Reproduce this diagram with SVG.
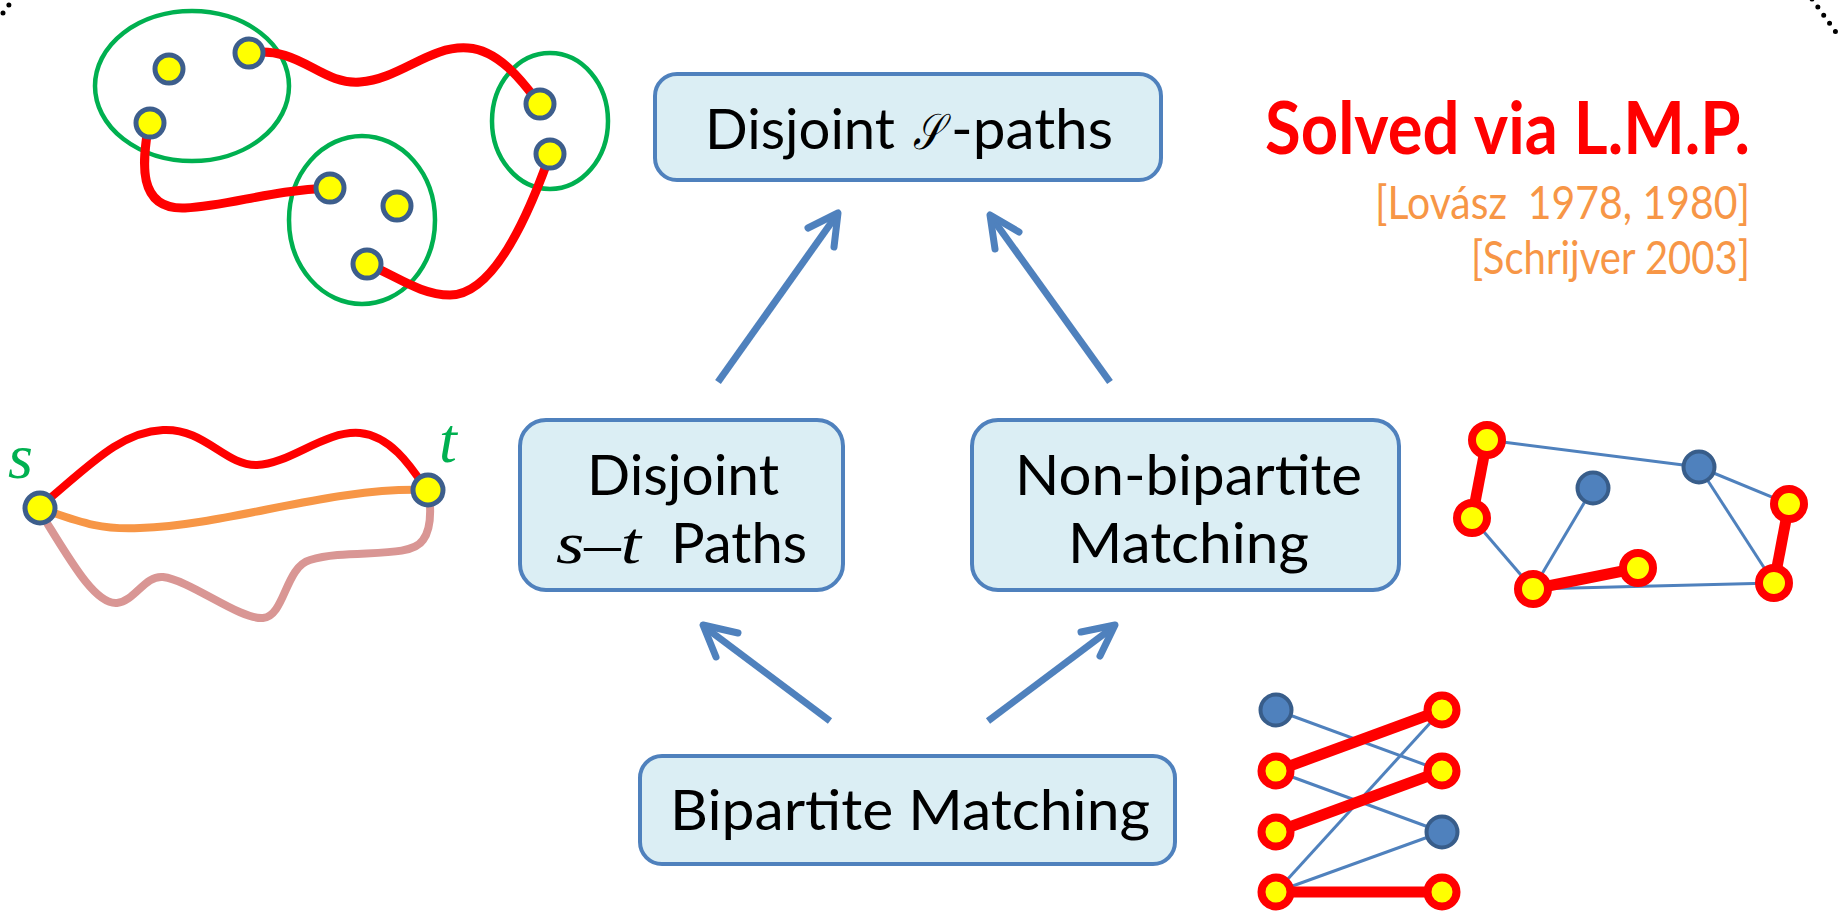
<svg xmlns="http://www.w3.org/2000/svg" width="1845" height="923" viewBox="0 0 1845 923">
  <style>
    .box { fill: #DBEEF4; stroke: #4F81BD; stroke-width: 4; }
    .lbl { font-family: Lato, "Open Sans", "Liberation Sans", sans-serif; fill: #000; }
    .math { font-family: "Liberation Serif", "DejaVu Serif", serif; font-style: italic; }
    .arrow { fill: none; stroke: #4F81BD; stroke-width: 7; stroke-linejoin: round; }
    .head { fill: none; stroke: #4F81BD; stroke-width: 7; stroke-linecap: round; stroke-linejoin: round; }
    .grp { fill: none; stroke: #00B050; stroke-width: 4.5; }
    .vtx { fill: #FFFF00; stroke: #3D5E8C; stroke-width: 5; }
    .mv { fill: #FFFF00; stroke: #FF0000; stroke-width: 8; }
    .bv { fill: #4F81BD; stroke: #385D8A; stroke-width: 4; }
    .thin { stroke: #4F81BD; stroke-width: 3; fill: none; }
    .thick { stroke: #FF0000; stroke-width: 11; fill: none; }
    .red { stroke: #FF0000; stroke-width: 9; fill: none; stroke-linecap: round; }
    .ref { font-family: Lato, "Open Sans", "Liberation Sans", sans-serif; fill: #F79646; }
    .dots { fill: none; stroke: #000; stroke-width: 5; stroke-dasharray: 0 10; stroke-linecap: round; }
  </style>

  <!-- frame corner dots -->
  <path class="dots" d="M3,13 L11,2"/>
  <path class="dots" d="M1812,-1 L1838,35"/>

  <!-- connectors -->
  <g id="connectors">
    <g id="e-st-to-S">
      <line class="arrow" x1="718" y1="382" x2="836" y2="216"/>
      <polyline class="head" points="808,228 838,213 834,247"/>
    </g>
    <g id="e-nb-to-S">
      <line class="arrow" x1="1110" y1="382" x2="992" y2="218"/>
      <polyline class="head" points="1019,232 990,215 995,249"/>
    </g>
    <g id="e-bm-to-st">
      <line class="arrow" x1="830" y1="721" x2="706" y2="628"/>
      <polyline class="head" points="738,633 703,625 716,657"/>
    </g>
    <g id="e-bm-to-nb">
      <line class="arrow" x1="988" y1="721" x2="1112" y2="628"/>
      <polyline class="head" points="1081,632 1115,625 1100,656"/>
    </g>
  </g>

  <!-- boxes -->
  <g id="node-s-paths">
    <rect class="box" x="655" y="74" width="506" height="106" rx="22"/>
    <text class="lbl" x="705" y="149" font-size="56" textLength="190" lengthAdjust="spacingAndGlyphs">Disjoint</text>
    <text x="913" y="149" font-size="50" font-family="'DejaVu Serif', 'DejaVu Sans', serif" font-style="italic" textLength="29" lengthAdjust="spacingAndGlyphs">𝒮</text>
    <text class="lbl" x="951" y="149" font-size="56" textLength="162" lengthAdjust="spacingAndGlyphs">-paths</text>
  </g>

  <g id="node-st-paths">
    <rect class="box" x="520" y="420" width="323" height="170" rx="26"/>
    <text class="lbl" x="587" y="495" font-size="56" textLength="192" lengthAdjust="spacingAndGlyphs">Disjoint</text>
    <text x="556" y="563" font-size="60" textLength="85" lengthAdjust="spacingAndGlyphs"><tspan class="math">s</tspan><tspan font-family="'Liberation Serif', serif">–</tspan><tspan class="math">t</tspan></text>
    <text class="lbl" x="671" y="563" font-size="56" textLength="136" lengthAdjust="spacingAndGlyphs">Paths</text>
  </g>

  <g id="node-nonbip">
    <rect class="box" x="972" y="420" width="427" height="170" rx="26"/>
    <text class="lbl" x="1015" y="495" font-size="56" textLength="347" lengthAdjust="spacingAndGlyphs">Non-bipartite</text>
    <text class="lbl" x="1068" y="563" font-size="56" textLength="241" lengthAdjust="spacingAndGlyphs">Matching</text>
  </g>

  <g id="node-bip">
    <rect class="box" x="640" y="756" width="535" height="108" rx="22"/>
    <text class="lbl" x="670" y="830" font-size="56" textLength="480" lengthAdjust="spacingAndGlyphs">Bipartite Matching</text>
  </g>

  <!-- title and references -->
  <g id="title">
    <text x="1265" y="154" font-family="Lato, 'Open Sans', 'Liberation Sans', sans-serif" font-weight="bold" font-size="72" fill="#FF0000" textLength="485" lengthAdjust="spacingAndGlyphs">Solved via L.M.P.</text>
    <text class="ref" x="1375" y="219" font-size="47" textLength="375" lengthAdjust="spacingAndGlyphs" xml:space="preserve">[Lovász  1978, 1980]</text>
    <text class="ref" x="1471" y="274" font-size="47" textLength="279" lengthAdjust="spacingAndGlyphs">[Schrijver 2003]</text>
  </g>

  <!-- S-paths illustration -->
  <g id="fig-s-paths">
    <ellipse class="grp" cx="192" cy="86" rx="97" ry="75"/>
    <ellipse class="grp" cx="362" cy="220" rx="73" ry="84"/>
    <ellipse class="grp" cx="550" cy="121" rx="58" ry="68"/>
    <path class="red" d="M249,53 C300,45 320,85 360,82 C400,79 430,45 468,48 C500,50 525,85 538,102"/>
    <path class="red" d="M148,128 C143,160 136,210 185,208 C230,206 270,190 330,188"/>
    <path class="red" d="M548,160 C530,210 495,295 450,295 C420,295 395,275 367,264"/>
    <circle class="vtx" cx="169" cy="69" r="14"/>
    <circle class="vtx" cx="249" cy="53" r="14"/>
    <circle class="vtx" cx="150" cy="123" r="14"/>
    <circle class="vtx" cx="540" cy="104" r="14"/>
    <circle class="vtx" cx="550" cy="154" r="14"/>
    <circle class="vtx" cx="330" cy="188" r="14"/>
    <circle class="vtx" cx="397" cy="206" r="14"/>
    <circle class="vtx" cx="367" cy="264" r="14"/>
  </g>

  <!-- s-t paths illustration -->
  <g id="fig-st">
    <path d="M42,515 C70,560 95,605 117,603 C135,601 145,575 163,577 C190,580 240,620 263,618 C285,616 285,567 310,560 C350,548 410,560 423,540 C432,528 430,510 430,505" fill="none" stroke="#D99694" stroke-width="8"/>
    <path d="M45,510 C80,522 100,530 140,528 C230,525 330,487 425,490" fill="none" stroke="#F79646" stroke-width="8"/>
    <path d="M42,505 C90,465 120,432 163,430 C205,428 225,466 257,465 C290,464 325,430 360,433 C390,436 410,465 424,486" fill="none" stroke="#FF0000" stroke-width="8"/>
    <circle class="vtx" cx="40" cy="508" r="15"/>
    <circle class="vtx" cx="428" cy="490" r="15"/>
    <text class="math" x="8" y="478" font-size="64" fill="#00B050">s</text>
    <text class="math" x="439" y="462" font-size="64" fill="#00B050">t</text>
  </g>

  <!-- non-bipartite matching illustration -->
  <g id="fig-nonbip">
    <line class="thin" x1="1487" y1="440" x2="1699" y2="467"/>
    <line class="thin" x1="1699" y1="467" x2="1789" y2="504"/>
    <line class="thin" x1="1699" y1="467" x2="1774" y2="583"/>
    <line class="thin" x1="1472" y1="518" x2="1533" y2="589"/>
    <line class="thin" x1="1533" y1="589" x2="1593" y2="488"/>
    <line class="thin" x1="1533" y1="589" x2="1774" y2="583"/>
    <line class="thick" x1="1487" y1="440" x2="1472" y2="518"/>
    <line class="thick" x1="1533" y1="589" x2="1638" y2="568"/>
    <line class="thick" x1="1789" y1="504" x2="1774" y2="583"/>
    <circle class="mv" cx="1487" cy="440" r="15"/>
    <circle class="mv" cx="1472" cy="518" r="15"/>
    <circle class="mv" cx="1533" cy="589" r="15"/>
    <circle class="mv" cx="1638" cy="568" r="15"/>
    <circle class="mv" cx="1789" cy="504" r="15"/>
    <circle class="mv" cx="1774" cy="583" r="15"/>
    <circle class="bv" cx="1593" cy="488" r="15.5"/>
    <circle class="bv" cx="1699" cy="467" r="15.5"/>
  </g>

  <!-- bipartite matching illustration -->
  <g id="fig-bip">
    <line class="thin" x1="1276" y1="710" x2="1442" y2="771"/>
    <line class="thin" x1="1276" y1="771" x2="1442" y2="832"/>
    <line class="thin" x1="1276" y1="892" x2="1442" y2="710"/>
    <line class="thin" x1="1276" y1="892" x2="1442" y2="832"/>
    <line class="thick" x1="1276" y1="771" x2="1442" y2="710"/>
    <line class="thick" x1="1276" y1="832" x2="1442" y2="771"/>
    <line class="thick" x1="1276" y1="892" x2="1442" y2="892"/>
    <circle class="bv" cx="1276" cy="710" r="15.5"/>
    <circle class="mv" cx="1276" cy="771" r="14.5"/>
    <circle class="mv" cx="1276" cy="832" r="14.5"/>
    <circle class="mv" cx="1276" cy="892" r="14.5"/>
    <circle class="mv" cx="1442" cy="710" r="14.5"/>
    <circle class="mv" cx="1442" cy="771" r="14.5"/>
    <circle class="bv" cx="1442" cy="832" r="15.5"/>
    <circle class="mv" cx="1442" cy="892" r="14.5"/>
  </g>
</svg>
